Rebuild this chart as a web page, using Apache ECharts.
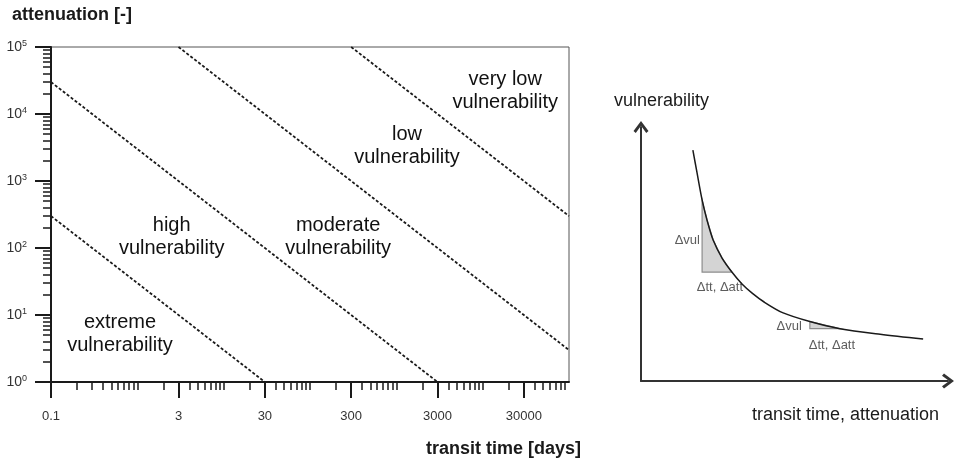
<!DOCTYPE html>
<html>
<head>
<meta charset="utf-8">
<title>vulnerability</title>
<script src="https://cdn.jsdelivr.net/npm/echarts@6/dist/echarts.min.js"></script>
<style>
html, body { margin: 0; padding: 0; background: #fff; }
#main { width: 955px; height: 462px; }
</style>
</head>
<body>
<div id="main"></div>
<script>
// left panel: attenuation against transit time (log-log)
var xLabelValues = [0.1, 3, 30, 300, 3000, 30000];
var yLabelValues = [1, 10, 100, 1000, 10000, 100000];

// class boundaries: transit time x attenuation = const
var boundaryStart = [[0.1, 300], [0.1, 30000], [3, 100000], [300, 100000]];
var boundaryEnd = [[30, 1], [3000, 1], [100000, 3], [100000, 300]];

// class names and where they sit (transit time, attenuation)
var classNames = ['extreme\nvulnerability', 'high\nvulnerability', 'moderate\nvulnerability', 'low\nvulnerability', 'very low\nvulnerability'];
var classAt = [[0.63, 5.2], [2.5, 148], [212, 148], [1330, 3340], [18250, 22000]];

// right panel: schematic curve (arbitrary units 0-100)
var curveX = [16.9, 18.2, 19.9, 21.5, 23.5, 26.4, 29.6, 32.9, 36.2, 40.1, 46.3, 55.0, 64.8, 77.9, 91.9];
var curveY = [90.9, 82.3, 71.3, 63.4, 55.5, 48.4, 42.9, 38.2, 34.6, 31.1, 26.8, 23.4, 20.6, 18.4, 16.5];
var triangle1 = [[19.9, 71.3], [19.9, 42.9], [29.6, 42.9], [26.4, 48.4], [23.5, 55.5], [21.5, 63.4]];
var triangle2 = [[55.0, 23.4], [55.0, 20.6], [64.8, 20.6]];
var deltaTexts = ['\u0394vul', '\u0394tt, \u0394att', '\u0394vul', '\u0394tt, \u0394att'];
var deltaAt = [[19.2, 55.5], [25.7, 37.0], [52.4, 21.3], [62.2, 14.2]];
var deltaAlign = ['right', 'center', 'right', 'center'];

//minor ticks of the log axes
function minorTicks(lo, hi, skip) {
    var out = [];
    for (var d = lo; d < hi; d++) {
        for (var k = 1; k <= 9; k++) {
            var v = k * Math.pow(10, d);
            if (skip.indexOf(+v.toPrecision(6)) < 0) out.push(v);
        }
    }
    return out;
}
var xMinor = minorTicks(-1, 5, xLabelValues);
var yMinor = minorTicks(0, 5, yLabelValues);

var font = 'Liberation Sans, Arial, sans-serif';
var ink = '#1a1a1a';

var myChart = echarts.init(document.getElementById('main'));

var series = [];
for (var i = 0; i < boundaryStart.length; i++) {
    series.push({
        type: 'line',
        xAxisIndex: 0,
        yAxisIndex: 0,
        symbol: 'none',
        silent: true,
        data: [boundaryStart[i], boundaryEnd[i]],
        lineStyle: { color: ink, width: 1.8, type: [3, 2] }
    });
}
series.push({
    type: 'scatter',
    xAxisIndex: 0,
    yAxisIndex: 0,
    symbolSize: 0,
    silent: true,
    data: classAt.map(function (p, i) { return { value: p, name: classNames[i] }; }),
    label: {
        show: true,
        position: 'inside',
        formatter: '{b}',
        color: '#111',
        opacity: 1,
        textBorderWidth: 0,
        fontFamily: font,
        fontSize: 20,
        lineHeight: 23,
        align: 'center'
    }
});
// shaded triangles
series.push({
    type: 'custom',
    xAxisIndex: 2,
    yAxisIndex: 2,
    silent: true,
    data: [[0], [1]],
    renderItem: function (params, api) {
        var tri = params.dataIndex === 0 ? triangle1 : triangle2;
        var pts = tri.map(function (p) { return api.coord(p); });
        return {
            type: 'polygon',
            shape: { points: pts },
            style: { fill: '#d4d4d4', stroke: '#8c8c8c', lineWidth: 1.2 }
        };
    }
});
series.push({
    type: 'line',
    xAxisIndex: 2,
    yAxisIndex: 2,
    symbol: 'none',
    smooth: 0.3,
    silent: true,
    data: curveX.map(function (x, i) { return [x, curveY[i]]; }),
    lineStyle: { color: ink, width: 1.5 },
    z: 5
});
series.push({
    type: 'scatter',
    xAxisIndex: 2,
    yAxisIndex: 2,
    symbolSize: 0,
    silent: true,
    data: deltaAt.map(function (p, i) {
        return { value: p, name: deltaTexts[i], label: { align: deltaAlign[i] } };
    }),
    label: {
        show: true,
        position: 'inside',
        formatter: '{b}',
        color: '#333',
        fontFamily: font,
        fontSize: 13
    }
});

var arrowPath = 'path://M0,8 L6,0 L12,8 L10.2,9.6 L6,3.8 L1.8,9.6 Z';

var option = {
    animation: false,
    backgroundColor: '#fff',
    textStyle: { fontFamily: font },
    grid: [
        { left: 51, top: 47, width: 518, height: 335, show: true, borderColor: '#555', borderWidth: 1, outerBoundsMode: 'none' },
        { left: 641, top: 127, width: 307, height: 254, outerBoundsMode: 'none' }
    ],
    xAxis: [
        {
            type: 'log', logBase: 10, gridIndex: 0, position: 'bottom',
            min: 0.1, max: 100000,
            axisLine: { show: true, onZero: false, lineStyle: { color: ink, width: 2 } },
            axisTick: { show: true, customValues: xLabelValues, length: 16, lineStyle: { color: ink, width: 2 } },
            axisLabel: {
                customValues: xLabelValues, margin: 28, color: '#333', fontSize: 13, fontFamily: font,
                formatter: function (v) { return String(+v.toPrecision(6)); }
            },
            splitLine: { show: false }
        },
        {
            type: 'log', logBase: 10, gridIndex: 0, position: 'bottom',
            min: 0.1, max: 100000,
            axisLine: { show: false, onZero: false },
            axisTick: { show: true, customValues: xMinor, length: 8, lineStyle: { color: ink, width: 1.5 } },
            axisLabel: { show: false },
            splitLine: { show: false }
        },
        {
            type: 'value', gridIndex: 1, min: 0, max: 100,
            axisLine: { show: true, onZero: false, symbol: ['none', arrowPath], symbolSize: [17, 12], lineStyle: { color: '#333', width: 2 } },
            axisTick: { show: false },
            axisLabel: { show: false },
            splitLine: { show: false }
        }
    ],
    yAxis: [
        {
            type: 'log', logBase: 10, gridIndex: 0, position: 'left',
            min: 1, max: 100000,
            axisLine: { show: true, onZero: false, lineStyle: { color: ink, width: 2 } },
            axisTick: { show: true, customValues: yLabelValues, length: 16, lineStyle: { color: ink, width: 2 } },
            axisLabel: {
                customValues: yLabelValues, margin: 24, color: '#333', fontSize: 14, fontFamily: font,
                formatter: function (v) { return '10{s|' + Math.round(Math.log10(v)) + '}'; },
                rich: {
                    s: { fontSize: 9, color: '#333', fontFamily: font, verticalAlign: 'top' }
                },
                lineHeight: 16
            },
            splitLine: { show: false }
        },
        {
            type: 'log', logBase: 10, gridIndex: 0, position: 'left',
            min: 1, max: 100000,
            axisLine: { show: false, onZero: false },
            axisTick: { show: true, customValues: yMinor, length: 8, lineStyle: { color: ink, width: 1.5 } },
            axisLabel: { show: false },
            splitLine: { show: false }
        },
        {
            type: 'value', gridIndex: 1, min: 0, max: 100,
            axisLine: { show: true, onZero: false, symbol: ['none', arrowPath], symbolSize: [17, 12], lineStyle: { color: '#333', width: 2 } },
            axisTick: { show: false },
            axisLabel: { show: false },
            splitLine: { show: false }
        }
    ],
    graphic: [
        { type: 'text', left: 12, top: 6, style: { text: 'attenuation [-]', fill: ink, font: 'bold 18px ' + font } },
        { type: 'text', left: 426, top: 440, style: { text: 'transit time [days]', fill: ink, font: 'bold 18px ' + font } },
        { type: 'text', left: 614, top: 92, style: { text: 'vulnerability', fill: ink, font: '18px ' + font } },
        { type: 'text', left: 752, top: 406, style: { text: 'transit time, attenuation', fill: ink, font: '18px ' + font } }
    ],
    series: series
};
myChart.setOption(option, true);
window.onresize = function () {
    myChart.resize();
};
</script>
</body>
</html>
